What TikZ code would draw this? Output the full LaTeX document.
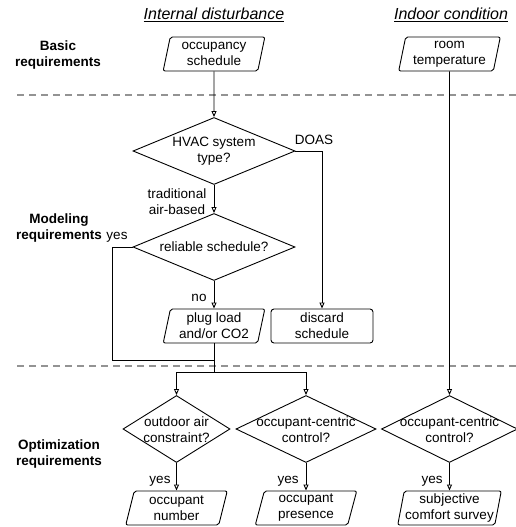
\documentclass[tikz,border=0pt]{standalone}
\usepackage{fontspec}
\setmainfont{Liberation Sans}
\usetikzlibrary{shapes.geometric,arrows.meta}

\begin{document}
\begin{tikzpicture}[x=1pt,y=-1pt,
    font=\fontsize{13.5}{16}\selectfont,
    line width=0.9pt,
    io/.style={trapezium,trapezium left angle=78,trapezium right angle=102,
      trapezium stretches=true,draw,rounded corners=2pt,
      minimum width=102pt,minimum height=34pt,inner sep=1pt,align=center},
    proc/.style={rectangle,draw,rounded corners=3pt,
      minimum width=102pt,minimum height=34pt,inner sep=1pt,align=center},
    dec/.style={diamond,draw,inner sep=0pt,minimum height=67pt},
    txt/.style={inner sep=0pt,align=center},
    hdr/.style={inner sep=0pt,font=\fontsize{16}{19}\selectfont\itshape},
    req/.style={inner sep=0pt,align=center,font=\fontsize{13.5}{16.5}\selectfont\bfseries},
    sep/.style={draw=gray!85,line width=1.3pt,dash pattern=on 7pt off 5pt},
    flow/.style={-{Triangle[open,length=6pt,width=5pt]}}]

  \useasboundingbox (0,0) rectangle (516,527);

  \node[hdr] (intdist) at (214,15) {\underline{Internal disturbance}};
  \node[hdr] (indoor) at (451,15) {\underline{Indoor condition}};

  \node[req] (basic) at (58,55) {Basic\\requirements};
  \node[req] (model) at (59,228) {Modeling\\requirements};
  \node[req] (optim) at (59,454) {Optimization\\requirements};

  \draw[sep] (17,95) -- (516,95);
  \draw[sep] (17,366) -- (516,366);

  \node[io] (occsched) at (214,54) {occupancy\\schedule};
  \node[io] (roomtemp) at (449.5,54) {room\\temperature};

  \node[dec,minimum width=162pt] (hvac) at (214,151) {};
  \node[txt] (hvac-t) at (hvac) {HVAC system\\type?};
  \node[dec,minimum width=162pt] (reliable) at (214,247) {};
  \node[txt] (reliable-t) at (reliable) {reliable schedule?};

  \node[io] (plug) at (214,326) {plug load\\and/or CO2};
  \node[proc] (discard) at (322,326) {discard\\schedule};

  \node[dec,minimum width=107pt] (outdoor) at (176.5,429) {};
  \node[txt] (outdoor-t) at (176.5,430) {outdoor air\\constraint?};
  \node[dec,minimum width=140pt] (occctrl) at (306,429) {};
  \node[txt] (occctrl-t) at (306,430) {occupant-centric\\control?};
  \node[dec,minimum width=136pt] (comfctrl) at (449.5,429) {};
  \node[txt] (comfctrl-t) at (449.5,430) {occupant-centric\\control?};

  \node[io] (occnum) at (176.5,508) {occupant\\number};
  \node[io] (occpres) at (306,508) {occupant\\presence};
  \node[io] (survey) at (449.5,508) {subjective\\comfort survey};

  \node[txt] (doas-l) at (314,140) {DOAS};
  \node[txt] (trad-l) at (177,201.5) {traditional\\air-based};
  \node[txt] (yes-l) at (117,237) {yes};
  \node[txt] (no-l) at (199,298) {no};
  \node[txt] (yes1-l) at (160,481) {yes};
  \node[txt] (yes2-l) at (288,481) {yes};
  \node[txt] (yes3-l) at (432,481) {yes};

  \coordinate (loop) at (112,360);
  \coordinate (split) at (214,372);

  \draw[flow] (occsched) -- (hvac);
  \draw[flow] (hvac) -- (reliable);
  \draw[flow] (hvac.east) -| (discard.north);
  \draw[flow] (reliable) -- (plug);
  \draw (reliable.west) -| (loop) -- (loop -| split);
  \draw (plug) -- (split);
  \draw[flow] (split) -| (outdoor);
  \draw[flow] (split) -| (occctrl);
  \draw[flow] (roomtemp) -- (comfctrl);
  \draw[flow] (outdoor) -- (occnum);
  \draw[flow] (occctrl) -- (occpres);
  \draw[flow] (comfctrl) -- (survey);
\end{tikzpicture}
\end{document}
